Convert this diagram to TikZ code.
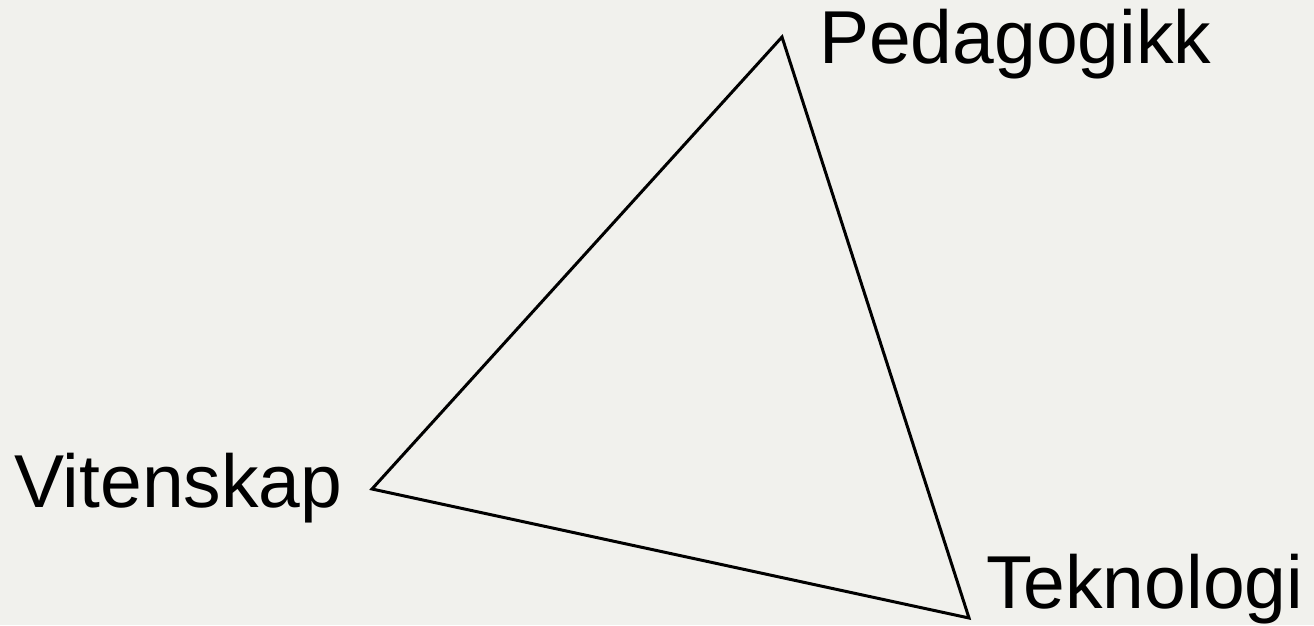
\documentclass[tikz,border=0pt]{standalone}
\usepackage{fontspec}
\setmainfont{Liberation Sans}
\usetikzlibrary{positioning}
\definecolor{bgpaper}{HTML}{F1F1ED}

\begin{document}
\begin{tikzpicture}[
  x=1pt, y=1pt,
  edge/.style={draw=black, line width=3pt, line join=miter},
  label/.style={anchor=base west, inner sep=0pt, font=\fontsize{75}{80}\selectfont}
]

% =========================
% Canvas
% =========================
\fill[bgpaper] (0,0) rectangle (1314,625);
\useasboundingbox (0,0) rectangle (1314,625);

% =========================
% Corners
% =========================
\coordinate (ped) at (782,588);
\coordinate (vit) at (372,136);
\coordinate (tek) at (969,7);

% =========================
% Labels
% =========================
\node[label] (pedlabel) at (819,561) {Pedagogikk};
\node[label] (vitlabel) at (14,118) {Vitenskap};
\node[label] (teklabel) at (986,17) {Teknologi};

% =========================
% Triangle
% =========================
\draw[edge] (ped) -- (tek) -- (vit) -- cycle;

\end{tikzpicture}
\end{document}
